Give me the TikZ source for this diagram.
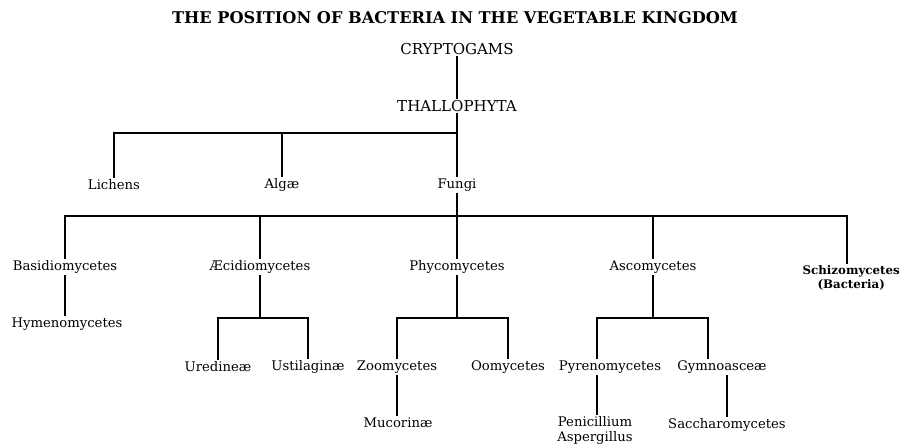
\documentclass[tikz,border=0pt]{standalone}
\usepackage{fontspec}
\setmainfont{DejaVu Serif}
\tikzset{
  taxon/.style={inner sep=1pt, font=\fontsize{9.4}{11}\selectfont},
  group/.style={inner sep=1pt, font=\fontsize{10.7}{12}\selectfont},
  branch/.style={line width=0.8pt}
}
\begin{document}
\begin{tikzpicture}
\useasboundingbox (0,0) rectangle (22.6,-11.075);
\node[inner sep=0pt, font=\fontsize{11.5}{13}\selectfont\bfseries] (title) at (11.375,-0.45) {THE POSITION OF BACTERIA IN THE VEGETABLE KINGDOM};
\node[group] (crypt) at (11.425,-1.225) {CRYPTOGAMS};
\node[group] (thallo) at (11.425,-2.65) {THALLOPHYTA};
\node[taxon] (lichens) at (2.85,-4.625) {Lichens};
\node[taxon] (algae) at (7.05,-4.625) {Algæ};
\node[taxon] (fungi) at (11.425,-4.625) {Fungi};
\node[taxon] (basidio) at (1.625,-6.675) {Basidiomycetes};
\node[taxon] (aecidio) at (6.5,-6.675) {Æcidiomycetes};
\node[taxon] (phyco) at (11.425,-6.675) {Phycomycetes};
\node[taxon] (asco) at (16.325,-6.675) {Ascomycetes};
\node[taxon, align=center, font=\fontsize{8.4}{9.6}\selectfont\bfseries] (schizo) at (21.28,-6.95) {Schizomycetes\\(Bacteria)};
\node[taxon] (hymeno) at (1.675,-8.1) {Hymenomycetes};
\node[taxon] (ured) at (5.45,-9.175) {Uredineæ};
\node[taxon] (ustil) at (7.7,-9.175) {Ustilaginæ};
\node[taxon] (zoomy) at (9.925,-9.175) {Zoomycetes};
\node[taxon] (oomy) at (12.7,-9.175) {Oomycetes};
\node[taxon] (pyreno) at (15.25,-9.175) {Pyrenomycetes};
\node[taxon] (gymno) at (18.05,-9.175) {Gymnoasceæ};
\node[taxon] (mucor) at (9.95,-10.575) {Mucorinæ};
\node[taxon, align=center] (penic) at (14.875,-10.76) {Penicillium\\Aspergillus};
\node[taxon] (sacch) at (18.175,-10.625) {Saccharomycetes};
% joints of the bars
\coordinate (j1) at (11.425,-3.325);
\coordinate (j2) at (11.425,-5.4);
\coordinate (b5) at (21.175,-5.4);
\coordinate (e1) at (6.5,-7.95);
\coordinate (p1) at (11.425,-7.95);
\coordinate (f1) at (14.925,-7.95);
\coordinate (f2) at (17.7,-7.95);
\draw[branch] (crypt) -- (thallo);
\draw[branch] (thallo) -- (fungi);
\draw[branch] (lichens) |- (j1);
\draw[branch] (algae) -- (algae |- j1);
\draw[branch] (fungi) -- (phyco);
\draw[branch] (basidio) |- (b5) -- (schizo.north -| b5);
\draw[branch] (aecidio) -- (aecidio |- j2);
\draw[branch] (asco) -- (asco |- j2);
\draw[branch] (basidio) -- (basidio |- hymeno.north);
\draw[branch] (aecidio) -- (e1);
\draw[branch] (ured) |- (e1) -| (ustil);
\draw[branch] (phyco) -- (p1);
\draw[branch] (zoomy) |- (p1) -| (oomy);
\draw[branch] (zoomy) -- (mucor.north -| zoomy);
\draw[branch] (asco) -- (asco |- f1);
\draw[branch] (pyreno.north -| f1) -- (f1) -- (f2) -- (gymno.north -| f2);
\draw[branch] (pyreno.south -| f1) -- (penic.north -| f1);
\draw[branch] (gymno.south -| sacch) -- (sacch);
\end{tikzpicture}
\end{document}
